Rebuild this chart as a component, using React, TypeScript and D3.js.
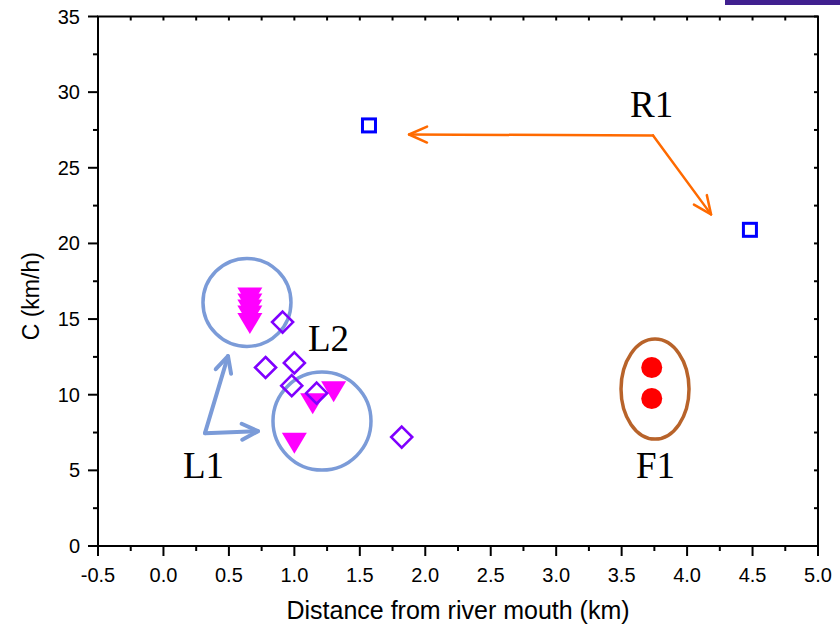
import React from "react";
import * as d3 from "d3";

// Observed groups: distance from river mouth (km) vs. speed C (km/h)
const r1Dist = [1.57, 4.48];
const r1Speed = [27.8, 20.9];

const f1Dist = [3.73, 3.73];
const f1Speed = [11.8, 9.75];

const l1Dist = [0.66, 0.66, 0.66, 0.66, 0.66, 1.3, 1.14, 1.0];
const l1Speed = [16.4, 16.0, 15.6, 15.2, 14.7, 10.2, 9.4, 6.8];

const l2Dist = [0.91, 0.78, 1.0, 0.98, 1.17, 1.82];
const l2Speed = [14.8, 11.8, 12.1, 10.6, 10.1, 7.2];

const xTickValues = [-0.5, 0, 0.5, 1, 1.5, 2, 2.5, 3, 3.5, 4, 4.5, 5];
const yTickValues = [0, 5, 10, 15, 20, 25, 30, 35];

const W = 840;
const H = 630;
const M = { left: 98, right: 22, top: 16.5, bottom: 84 };

const x = d3.scaleLinear().domain([-0.5, 5]).range([M.left, W - M.right]);
const y = d3.scaleLinear().domain([0, 35]).range([H - M.bottom, M.top]);

const BLUE_NOTE = "#7b9bd8";
const ORANGE = "#ff6a00";
const BROWN = "#b8632a";

const fmtTick = (v: number) => d3.format(".1f")(v).replace("\u2212", "-");

function arrowHead(x0: number, y0: number, x1: number, y1: number, len: number, half: number) {
  const a = Math.atan2(y1 - y0, x1 - x0);
  const bx = x1 - len * Math.cos(a);
  const by = y1 - len * Math.sin(a);
  const nx = -Math.sin(a) * half;
  const ny = Math.cos(a) * half;
  return `M${bx + nx},${by + ny}L${x1},${y1}L${bx - nx},${by - ny}`;
}

function Arrow({ from, to, color, width, len, half }: any) {
  const x0 = x(from[0]), y0 = y(from[1]), x1 = x(to[0]), y1 = y(to[1]);
  return (
    <g stroke={color} strokeWidth={width} fill="none" strokeLinecap="round" strokeLinejoin="round">
      <line x1={x0} y1={y0} x2={x1} y2={y1} />
      <path d={arrowHead(x0, y0, x1, y1, len, half)} />
    </g>
  );
}

export default function App() {
  const plotL = x(-0.5), plotR = x(5), plotT = y(35), plotB = y(0);
  const xMinor = d3.range(-0.5, 5.0001, 0.25);
  const yMinor = d3.range(0, 35.0001, 2.5);
  const tick = "Arial, 'Liberation Sans', sans-serif";
  const serif = "'Liberation Serif', 'DejaVu Serif', serif";

  return (
    <svg width={W} height={H} style={{ position: "absolute", left: 0, top: 0, background: "#fff" }}>
      <rect x={0} y={0} width={W} height={H} fill="#fff" />
      <rect x={725} y={0} width={115} height={5} fill="#40208f" />

      {/* annotations */}
      <circle cx={x(0.638)} cy={y(16.1)} r={44} fill="none" stroke={BLUE_NOTE} strokeWidth={3.5} />
      <circle cx={x(1.211)} cy={y(8.26)} r={49} fill="none" stroke={BLUE_NOTE} strokeWidth={3.5} />
      <ellipse cx={x(3.755)} cy={y(10.37)} rx={34} ry={50} fill="none" stroke={BROWN} strokeWidth={3.5} />
      <Arrow from={[0.317, 7.46]} to={[0.493, 12.55]} color={BLUE_NOTE} width={4} len={16} half={8} />
      <Arrow from={[0.317, 7.46]} to={[0.722, 7.59]} color={BLUE_NOTE} width={4} len={16} half={8} />
      <Arrow from={[3.74, 27.14]} to={[1.876, 27.2]} color={ORANGE} width={2.5} len={18} half={8} />
      <Arrow from={[3.74, 27.14]} to={[4.183, 21.92]} color={ORANGE} width={2.5} len={18} half={8} />

      <g fontFamily={serif} fontSize={37} fill="#000">
        <text x={x(0.149)} y={y(4.49)}>L1</text>
        <text x={x(1.104)} y={y(12.88)}>L2</text>
        <text x={x(3.564)} y={y(28.33)}>R1</text>
        <text x={x(3.61)} y={y(4.49)}>F1</text>
      </g>

      {/* data */}
      {r1Dist.map((d, i) => (
        <rect key={"r" + i} x={x(d) - 6.5} y={y(r1Speed[i]) - 6.5} width={13} height={13}
          fill="none" stroke="#0000ff" strokeWidth={3} />
      ))}
      {f1Dist.map((d, i) => (
        <circle key={"f" + i} cx={x(d)} cy={y(f1Speed[i])} r={10.5} fill="#ff0000" />
      ))}
      {l1Dist.map((d, i) => {
        const cx = x(d), cy = y(l1Speed[i]);
        return <path key={"l1" + i} d={`M${cx - 12.5},${cy - 10.5}L${cx + 12.5},${cy - 10.5}L${cx},${cy + 10.5}Z`} fill="#ff00ff" />;
      })}
      {l2Dist.map((d, i) => {
        const cx = x(d), cy = y(l2Speed[i]), h = 10.5;
        return <path key={"l2" + i} d={`M${cx},${cy - h}L${cx + h},${cy}L${cx},${cy + h}L${cx - h},${cy}Z`}
          fill="none" stroke="#7f00ff" strokeWidth={2.6} />;
      })}

      {/* axes frame and ticks */}
      <g stroke="#000" strokeWidth={2}>
        {xMinor.map((v, i) => {
          const major = i % 2 === 0;
          return (
            <g key={"xt" + i}>
              <line x1={x(v)} x2={x(v)} y1={plotB} y2={plotB + (major ? 10 : 5)} />
              <line x1={x(v)} x2={x(v)} y1={plotT} y2={plotT + 4} />
            </g>
          );
        })}
        {yMinor.map((v, i) => {
          const major = i % 2 === 0;
          return (
            <g key={"yt" + i}>
              <line x1={plotL} x2={plotL - (major ? 10 : 5)} y1={y(v)} y2={y(v)} />
              <line x1={plotR} x2={plotR - 4} y1={y(v)} y2={y(v)} />
            </g>
          );
        })}
        <rect x={plotL} y={plotT} width={plotR - plotL} height={plotB - plotT} fill="none" />
      </g>

      <g fontFamily={tick} fontSize={20} fill="#000">
        {xTickValues.map((v) => (
          <text key={"xl" + v} x={x(v)} y={plotB + 36} textAnchor="middle">{fmtTick(v)}</text>
        ))}
        {yTickValues.map((v) => (
          <text key={"yl" + v} x={plotL - 18} y={y(v)} dy="0.35em" textAnchor="end">{v}</text>
        ))}
        <text x={(plotL + plotR) / 2} y={619} textAnchor="middle" fontSize={25}>Distance from river mouth (km)</text>
        <text transform={`translate(39,${(plotT + plotB) / 2 + 15}) rotate(-90)`} textAnchor="middle" fontSize={23}>C (km/h)</text>
      </g>
    </svg>
  );
}
